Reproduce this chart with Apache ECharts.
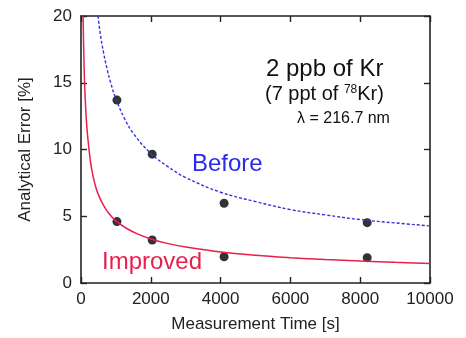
<!DOCTYPE html>
<html><head><meta charset="utf-8">
<script src="https://cdn.jsdelivr.net/npm/echarts@6/dist/echarts.min.js"></script>
<style>html,body{margin:0;padding:0;background:#fff}#c{width:466px;height:338px}</style>
</head><body><div id="c"></div>
<script>
// Measured points
const pointTimes = [1030, 2040, 4100, 8200];
const beforeValues = [13.7, 9.65, 5.97, 4.52];
const improvedValues = [4.6, 3.22, 1.97, 1.9];
// Fitted curves
const beforeCurveT = [487, 550, 650, 750, 850, 1000, 1250, 1500, 2000, 2500, 3000, 4000, 5000, 6000, 7000, 8000, 9000, 10000];
const beforeCurveV = [20, 18.7, 17.2, 16.0, 15.0, 13.8, 12.3, 11.2, 9.7, 8.7, 7.9, 6.8, 6.1, 5.5, 5.1, 4.75, 4.5, 4.28];
const improvedCurveT = [60, 80, 100, 130, 170, 230, 300, 400, 500, 650, 800, 1000, 1300, 1600, 2000, 2500, 3000, 4000, 5000, 6000, 7000, 8000, 9000, 10000];
const improvedCurveV = [20, 17.2, 15.2, 13.3, 11.6, 10.0, 8.6, 7.4, 6.6, 5.8, 5.2, 4.65, 4.1, 3.7, 3.3, 2.95, 2.7, 2.33, 2.08, 1.9, 1.76, 1.65, 1.55, 1.47];
const xTicks = [0, 2000, 4000, 6000, 8000, 10000];
const yTicks = [0, 5, 10, 15, 20];

const FONT = 'Liberation Sans';
const zip = (a, b) => a.map((v, i) => [v, b[i]]);
const chart = echarts.init(document.getElementById('c'));
const tickStyle = {show: true, inside: true, length: 6, lineStyle: {color: '#222', width: 1.4}};
const lineStyle = {show: true, onZero: false, lineStyle: {color: '#222', width: 1.6}};
chart.setOption({
  animation: false,
  grid: {left: 81, right: 36, top: 16, bottom: 55},
  xAxis: [{
    type: 'value', min: xTicks[0], max: xTicks[xTicks.length - 1], interval: 2000,
    axisLine: lineStyle, axisTick: tickStyle, splitLine: {show: false},
    axisLabel: {color: '#222', fontSize: 17, fontFamily: FONT, margin: 8, formatter: v => String(v)},
    name: 'Measurement Time [s]', nameLocation: 'middle', nameGap: 33,
    nameTextStyle: {color: '#222', fontSize: 17, fontFamily: FONT}
  }, {
    type: 'value', position: 'top', min: 0, max: 10000, interval: 2000,
    axisLine: lineStyle, axisTick: tickStyle, axisLabel: {show: false}, splitLine: {show: false}
  }],
  yAxis: [{
    type: 'value', min: yTicks[0], max: yTicks[yTicks.length - 1], interval: 5,
    axisLine: lineStyle, axisTick: tickStyle, splitLine: {show: false},
    axisLabel: {color: '#222', fontSize: 17, fontFamily: FONT, margin: 9},
    name: 'Analytical Error [%]', nameLocation: 'middle', nameGap: 47,
    nameTextStyle: {color: '#222', fontSize: 17, fontFamily: FONT}
  }, {
    type: 'value', position: 'right', min: 0, max: 20, interval: 5,
    axisLine: lineStyle, axisTick: tickStyle, axisLabel: {show: false}, splitLine: {show: false}
  }],
  series: [
    {type: 'line', data: zip(beforeCurveT, beforeCurveV), smooth: 0.4,
     showSymbol: false, symbol: 'none', clip: true,
     lineStyle: {color: '#3535d5', width: 1.4, type: [3, 2]}},
    {type: 'line', data: zip(improvedCurveT, improvedCurveV), smooth: 0.4,
     showSymbol: false, symbol: 'none', clip: true,
     lineStyle: {color: '#e81f4d', width: 1.5}},
    {type: 'scatter', data: zip(pointTimes, beforeValues), symbolSize: 9, itemStyle: {color: '#000'}},
    {type: 'scatter', data: zip(pointTimes, improvedValues), symbolSize: 9, itemStyle: {color: '#000'}}
  ],
  graphic: [
    {type: 'text', left: 266, top: 57, style: {text: '2 ppb of Kr', fontSize: 24, fontFamily: FONT, fill: '#111'}},
    {type: 'text', left: 265, top: 84, style: {
      text: '(7 ppt of {sup|78}Kr)', fontSize: 20, fontFamily: FONT, fill: '#111',
      rich: {sup: {fontSize: 12, fontFamily: FONT, fill: '#111', verticalAlign: 'top', padding: [0, 0, 9, 0]}}}},
    {type: 'text', left: 297, top: 111, style: {text: 'λ = 216.7 nm', fontSize: 16, fontFamily: FONT, fill: '#111'}},
    {type: 'text', left: 192, top: 152, style: {text: 'Before', fontSize: 24, fontFamily: FONT, fill: '#2a2ae8'}},
    {type: 'text', left: 102, top: 250, style: {text: 'Improved', fontSize: 24, fontFamily: FONT, fill: '#e81f4d'}}
  ]
});
</script></body></html>
